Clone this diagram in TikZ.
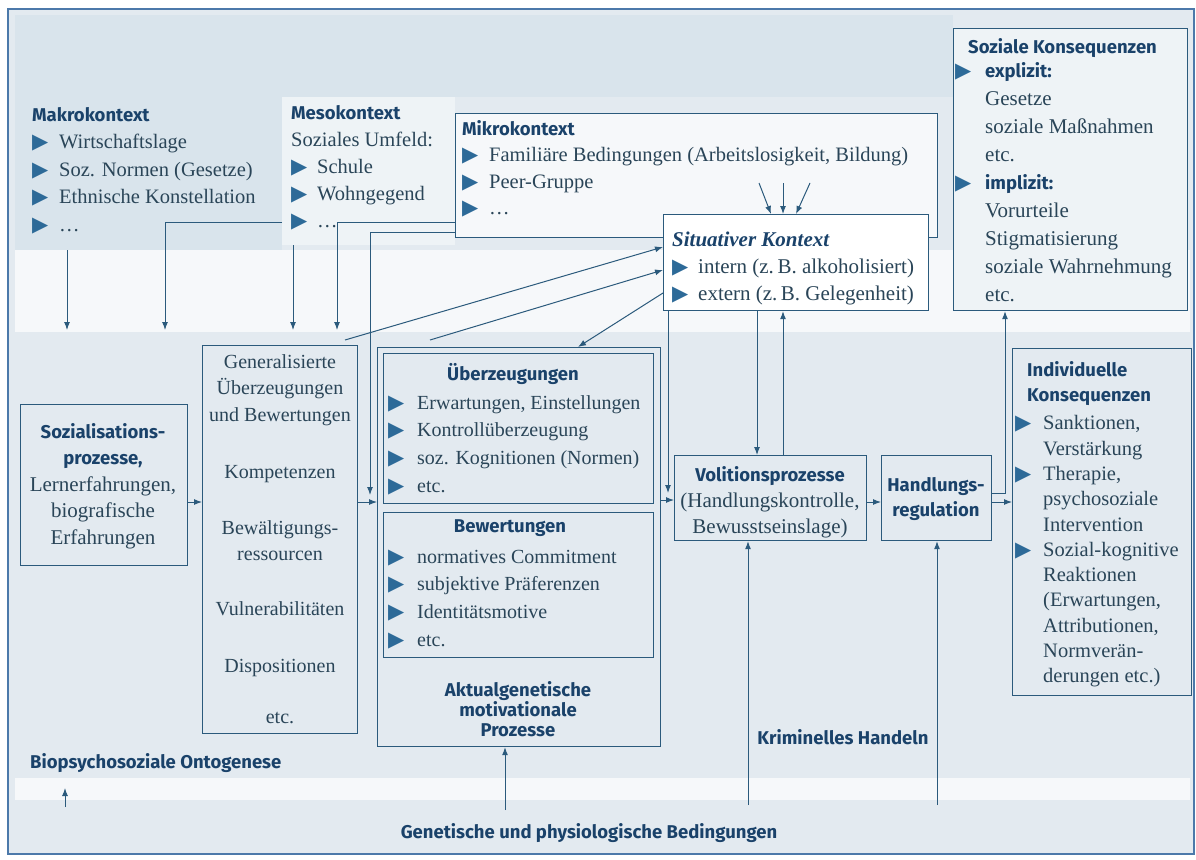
\documentclass[tikz,border=0pt]{standalone}
\usepackage{fontspec}
\setmainfont{Liberation Serif}
\newfontfamily\hdfont{Fira Sans}
\newfontfamily\symfont{DejaVu Sans}
\usetikzlibrary{arrows.meta}
\definecolor{ln}{HTML}{2B5A7C}
\definecolor{tx}{HTML}{2A4558}
\definecolor{hdc}{HTML}{1A426A}
\definecolor{tric}{HTML}{2D6A98}
\definecolor{bgL}{HTML}{E3EAF0}
\definecolor{bgT}{HTML}{D9E4EC}
\definecolor{bgW}{HTML}{F6F8FA}
\definecolor{bgM}{HTML}{EEF3F6}
\definecolor{framec}{HTML}{4C79AA}
\newcommand\tri[1][27pt]{\makebox[#1][l]{\raisebox{0pt}{\color{tric}\symfont\fontsize{21}{21}\selectfont ▶}}}
\newcommand\hb[1]{{\hdfont\bfseries\fontsize{18.5}{20}\selectfont\color{hdc}#1}}
\newcommand\fl{\rule{0pt}{16pt}}
\tikzset{
  box/.style={draw=ln, line width=1.2pt, inner sep=0pt, anchor=north west},
  bgbox/.style={inner sep=0pt, anchor=north west},
  txt/.style={inner sep=0pt, text=tx, font=\fontsize{20.5}{27}\selectfont, align=left},
  ctxt/.style={inner sep=0pt, text=tx, font=\fontsize{21}{26.5}\selectfont, align=center},
  hdlab/.style={inner sep=0pt, text=hdc, font=\hdfont\bfseries\fontsize{18.5}{20}\selectfont},
  arr/.style={draw=ln, line width=1pt, -{Latex[length=8pt,width=6pt]}},
}
\begin{document}
\begin{tikzpicture}[x=1pt,y=-1pt]
\useasboundingbox (0,0) rectangle (1196,859);
% backgrounds
\fill[bgL] (8,9) rectangle (1194,854);
\fill[bgT] (15,15) rectangle (953,97);
\node[bgbox, fill=bgT, minimum width=267pt, minimum height=153pt] (makrobg) at (15,97) {};
\node[bgbox, fill=bgM, minimum width=173pt, minimum height=148pt] (mesobg) at (282,97) {};
\fill[bgW] (15,250) rectangle (1190,332);
\fill[bgW] (15,778) rectangle (1190,800);

% boxes
\node[box, fill=bgW, minimum width=482pt, minimum height=124pt] (mikrobox) at (455,113) {};
\node[box, fill=white, minimum width=265pt, minimum height=96pt] (sitbox) at (663,214) {};
\node[box, fill=bgM, minimum width=234pt, minimum height=282pt] (sozk) at (953,28) {};
\node[box, minimum width=167pt, minimum height=161pt] (sozbox) at (20,404) {};
\node[box, minimum width=155pt, minimum height=388pt] (genbox) at (202,345) {};
\node[box, minimum width=283pt, minimum height=399pt] (ueo) at (377,347) {};
\node[box, minimum width=270pt, minimum height=150pt] (uei) at (383,353) {};
\node[box, minimum width=270pt, minimum height=145pt] (bwi) at (383,512) {};
\node[box, minimum width=192pt, minimum height=85pt] (vol) at (674,455) {};
\node[box, minimum width=110pt, minimum height=85pt] (hand) at (881,455) {};
\node[box, minimum width=179pt, minimum height=347pt] (indiv) at (1012,348) {};

% texts
\node[txt, anchor=north west, font=\fontsize{20.5}{27.5}\selectfont] (makro) at (32,105)
  {\fl\hb{Makrokontext}\\ \tri Wirtschaftslage\\ \tri Soz. Normen (Gesetze)\\ \tri Ethnische Konstellation\\ \tri …};
\node[txt, anchor=north west] (meso) at (291,103)
  {\fl\hb{Mesokontext}\\ Soziales Umfeld:\\ \tri[26pt]Schule\\ \tri[26pt]Wohngegend\\ \tri[26pt]…};
\node[txt, anchor=north west, font=\fontsize{20.5}{26.5}\selectfont] (mikro) at (462,119)
  {\fl\hb{Mikrokontext}\\ \tri Familiäre Bedingungen (Arbeitslosigkeit, Bildung)\\ \tri Peer-Gruppe\\ \tri …};
\node[txt, anchor=north west, font=\fontsize{21}{27}\selectfont] (sit) at (672,230)
  {\fl{\color{hdc}\bfseries\itshape Situativer Kontext}\\ \tri[26pt]intern (z.\,B. alkoholisiert)\\ \tri[26pt]extern (z.\,B. Gelegenheit)};
\node[txt, anchor=north west, font=\fontsize{21}{28}\selectfont] (sozt) at (955,37)
  {\fl\hspace*{13pt}\hb{Soziale Konsequenzen}\\[-4pt]
   \tri[30pt]\hb{explizit:}\\ \hspace*{30pt}Gesetze\\ \hspace*{30pt}soziale Maßnahmen\\ \hspace*{30pt}etc.\\
   \tri[30pt]\hb{implizit:}\\ \hspace*{30pt}Vorurteile\\ \hspace*{30pt}Stigmatisierung\\ \hspace*{30pt}soziale Wahrnehmung\\ \hspace*{30pt}etc.};
\node[ctxt, anchor=north] (sozt2) at (103,422)
  {\fl\hb{Sozialisations-}\\ \hb{prozesse,}\\ Lernerfahrungen,\\ biografische\\ Erfahrungen};
\node[ctxt, anchor=north, font=\fontsize{20}{26.5}\selectfont] (gent) at (280,352)
  {\fl Generalisierte\\ Überzeugungen\\ und Bewertungen\\[30.5pt] Kompetenzen\\[29.5pt] Bewältigungs-\\ ressourcen\\[28.5pt] Vulnerabilitäten\\[30.5pt] Dispositionen\\[24.5pt] etc.};
\node[hdlab] (uet) at (513,374) {Überzeugungen};
\node[txt, anchor=north west, font=\fontsize{20}{27.7}\selectfont] (uetx) at (388,393)
  {\fl\tri[29pt]Erwartungen, Einstellungen\\ \tri[29pt]Kontrollüberzeugung\\ \tri[29pt]soz. Kognitionen (Normen)\\ \tri[29pt]etc.};
\node[hdlab] (bwt) at (510,528) {Bewertungen};
\node[txt, anchor=north west, font=\fontsize{20}{27.7}\selectfont] (bwtx) at (388,547)
  {\fl\tri[29pt]normatives Commitment\\ \tri[29pt]subjektive Präferenzen\\ \tri[29pt]Identitätsmotive\\ \tri[29pt]etc.};
\node[hdlab, align=center, font=\hdfont\bfseries\fontsize{18.5}{20}\selectfont] (akt) at (518,709)
  {Aktualgenetische\\ motivationale\\ Prozesse};
\node[ctxt, anchor=north, font=\fontsize{21}{26}\selectfont] (volt) at (770,465)
  {\fl\hb{Volitionsprozesse}\\ (Handlungskontrolle,\\ Bewusstseinslage)};
\node[ctxt, anchor=north, font=\fontsize{21}{25}\selectfont] (handt) at (936,475)
  {\fl\hb{Handlungs-}\\ \hb{regulation}};
\node[txt, anchor=north west, font=\fontsize{20.5}{25.3}\selectfont] (indt) at (1015,360)
  {\fl\hspace*{12pt}\hb{Individuelle}\\ \hspace*{12pt}\hb{Konsequenzen}\\[3pt]
   \tri[28pt]Sanktionen,\\ \hspace*{28pt}Verstärkung\\
   \tri[28pt]Therapie,\\ \hspace*{28pt}psychosoziale\\ \hspace*{28pt}Intervention\\
   \tri[28pt]Sozial-kognitive\\ \hspace*{28pt}Reaktionen\\ \hspace*{28pt}(Erwartungen,\\ \hspace*{28pt}Attributionen,\\ \hspace*{28pt}Normverän-\\ \hspace*{28pt}derungen etc.)};
\node[hdlab] (krim) at (843,737) {Kriminelles Handeln};
\node[hdlab, anchor=west] (bio) at (30,763) {Biopsychosoziale Ontogenese};
\node[hdlab] (genet) at (589,833) {Genetische und physiologische Bedingungen};

% free-end coordinates
\coordinate (bio1) at (67,330);
\coordinate (bio2) at (165,330);
\coordinate (bio3) at (293,330);
\coordinate (bio4) at (337,330);
\coordinate (m1) at (455,222);
\coordinate (m2) at (455,232);
\coordinate (c1) at (370,495);
\coordinate (c2) at (668,493);
\coordinate (yA) at (0,502);
\coordinate (yB) at (0,500);
\coordinate (yC) at (0,493);
\coordinate (xS) at (1005,0);
\coordinate (g1) at (345,340);
\coordinate (g2) at (430,340);
\coordinate (k1) at (748,805);
\coordinate (k2) at (937,805);
\coordinate (gg) at (505,810);
\coordinate (bb1) at (65,807);
\coordinate (bb2) at (65,788);

% connectors
\draw[arr] (makrobg.south -| bio1) -- (bio1);
\draw[arr] (m1) -| (bio4);
\draw[arr] (mesobg.west |- m1) -| (bio2);
\draw[arr] (mesobg.south -| bio3) -- (bio3);
\draw[arr] (m2) -| (c1);
\draw[arr] (sozbox.east |- yA) -- (genbox.west |- yA);
\draw[arr] (genbox.east |- yA) -- (ueo.west |- yA);
\draw[arr] (ueo.east |- yB) -- (vol.west |- yB);
\draw[arr] (vol.east |- yA) -- (hand.west |- yA);
\draw[arr] (hand.east |- yA) -- (indiv.west |- yA);
\draw[arr] (hand.east |- yC) -| (sozk.south -| xS);
\draw[arr] (sitbox.south -| c2) -- (c2);
\draw[arr] (sitbox.south -| 757,0) -- (vol.north -| 757,0);
\draw[arr] (vol.north -| 783,0) -- (sitbox.south -| 783,0);
\draw[arr] (g1) -- (sitbox.west |- 0,247);
\draw[arr] (g2) -- (sitbox.west |- 0,270);
\draw[arr] (sitbox.west |- 0,293) -- (ueo.north -| 578,0);
\draw[arr] (759,183) -- (sitbox.north -| 771,0);
\draw[arr] (783,183) -- (sitbox.north -| 783,0);
\draw[arr] (810,183) -- (sitbox.north -| 796,0);
\draw[arr] (k1) -- (vol.south -| k1);
\draw[arr] (k2) -- (hand.south -| k2);
\draw[arr] (gg) -- (ueo.south -| gg);
\draw[arr] (bb1) -- (bb2);

% frame
\draw[framec, line width=2pt] (8,9) rectangle (1194,854);
\end{tikzpicture}
\end{document}
